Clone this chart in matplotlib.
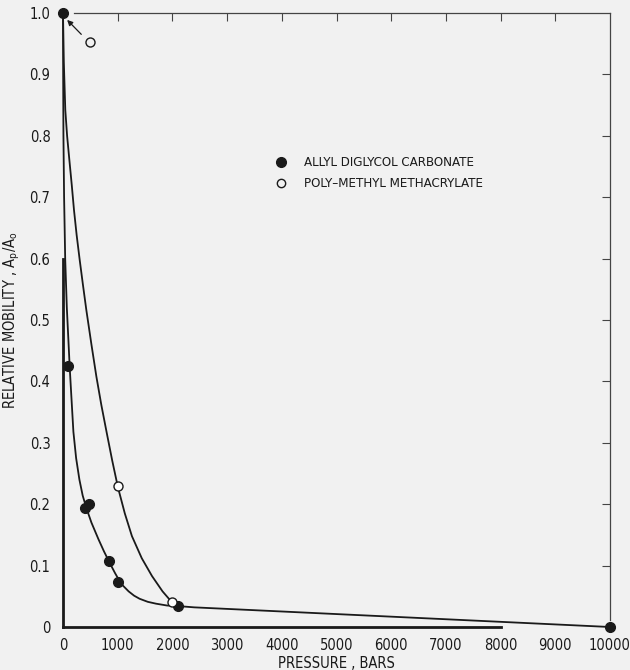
import matplotlib
matplotlib.use("Agg")
import matplotlib.pyplot as plt
from matplotlib.ticker import FixedLocator

plt.rcParams['font.family'] = ['DejaVu Sans']
plt.rcParams['font.stretch'] = 'condensed'
plt.rcParams['mathtext.fontset'] = 'custom'
plt.rcParams['mathtext.rm'] = 'DejaVu Sans:stretch=condensed'

# ---- data ----
adc_x = [0, 100, 400, 480, 850, 1000, 2100, 10000]
adc_y = [1.0, 0.425, 0.193, 0.200, 0.107, 0.073, 0.034, 0.0]
pmma_x = [1000, 2000]
pmma_y = [0.230, 0.040]
pmma_note_x = [490]
pmma_note_y = [0.953]

adc_curve_x = [0, 3, 8, 20, 40, 70, 100, 122, 150, 190, 240, 300, 360, 430,
               520, 648, 750, 862, 950, 1014, 1100, 1200, 1300, 1400, 1550,
               1700, 1900, 2114, 2400, 10000]
adc_curve_y = [1.0, 0.9, 0.8, 0.7, 0.6, 0.52, 0.465, 0.424, 0.38, 0.318,
               0.275, 0.24, 0.214, 0.193, 0.170, 0.143, 0.123, 0.103, 0.088,
               0.078, 0.067, 0.058, 0.051, 0.046, 0.041, 0.038, 0.035, 0.034,
               0.032, 0.0]
pmma_curve_x = [0, 15, 42, 75, 116, 160, 201, 250, 305, 365, 427, 520, 610,
                700, 800, 900, 1003, 1130, 1260, 1440, 1627, 1820, 2004, 2080]
pmma_curve_y = [1.0, 0.92, 0.842, 0.80, 0.761, 0.72, 0.679, 0.638, 0.598,
                0.557, 0.516, 0.46, 0.408, 0.362, 0.316, 0.271, 0.228, 0.185,
                0.148, 0.112, 0.083, 0.058, 0.039, 0.034]

x_ticks = [0, 1000, 2000, 3000, 4000, 5000, 6000, 7000, 8000, 9000, 10000]
x_labels = ['0', '1000', '2000', '3000', '4000', '5000', '6000', '7000',
            '8000', '9000', '10000']
y_ticks = [0, 0.1, 0.2, 0.3, 0.4, 0.5, 0.6, 0.7, 0.8, 0.9, 1.0]
y_labels = ['0', '0.1', '0.2', '0.3', '0.4', '0.5', '0.6', '0.7', '0.8',
            '0.9', '1.0']

bg = '#f1f1f1'
ink = '#1a1a1a'

fig = plt.figure(figsize=(6.3, 6.7), dpi=100, facecolor=bg)
W, H = 630, 670
x0, x1 = 63, 610
y0, y1 = 627, 13
ax = fig.add_axes([x0 / W, 1 - y0 / H, (x1 - x0) / W, (y0 - y1) / H])
ax.set_facecolor(bg)
ax.set_xlim(0, 10000)
ax.set_ylim(0, 1.0)

# curves
ax.plot(adc_curve_x, adc_curve_y, color=ink, lw=1.3, clip_on=False, zorder=3,
        solid_joinstyle='round')
ax.plot(pmma_curve_x, pmma_curve_y, color=ink, lw=1.3, clip_on=False, zorder=3,
        solid_joinstyle='round')

# points
ax.plot(adc_x, adc_y, 'o', ms=7, color=ink, mec=ink, clip_on=False, zorder=5)
ax.plot(pmma_x, pmma_y, 'o', ms=6.5, mfc='white', mec=ink, mew=1.0,
        clip_on=False, zorder=6)
ax.plot(pmma_note_x, pmma_note_y, 'o', ms=6.5, mfc=bg, mec=ink, mew=1.0,
        clip_on=False, zorder=6)
ax.annotate('', xy=(40, 0.992), xytext=(370, 0.962),
            arrowprops=dict(arrowstyle='-|>', color=ink, lw=0.9,
                            mutation_scale=8))

# spines
for s in ['left', 'bottom']:
    ax.spines[s].set_linewidth(2.0)
    ax.spines[s].set_color(ink)
ax.spines['left'].set_bounds(0, 0.6)
ax.spines['bottom'].set_bounds(0, 8000)
ax.spines['top'].set_visible(False)
ax.spines['right'].set_visible(False)

# ticks
ax.set_xticks(x_ticks)
ax.set_xticklabels(x_labels)
ax.set_yticks(y_ticks)
ax.set_yticklabels(y_labels)
ax.tick_params(which='major', length=0, labelsize=10.5, colors=ink)
ax.tick_params(axis='x', which='major', pad=8)
ax.tick_params(axis='y', which='major', pad=9)
ax.xaxis.set_minor_locator(FixedLocator(x_ticks[1:8]))
ax.yaxis.set_minor_locator(FixedLocator(y_ticks[1:4]))
ax.tick_params(which='minor', direction='in', length=6, width=0.8,
               colors=ink)

# right frame with ticks
axr = ax.twinx()
axr.set_ylim(0, 1.0)
axr.set_yticks(y_ticks[1:10])
axr.set_yticklabels([])
axr.tick_params(axis='y', direction='in', length=6, width=0.8, colors='#444444')
for s in ['left', 'bottom', 'top']:
    axr.spines[s].set_visible(False)
axr.spines['right'].set_bounds(0.012, 1.0)
axr.spines['right'].set_linewidth(0.9)
axr.spines['right'].set_color('#444444')

# top frame with ticks
axt = ax.twiny()
axt.set_xlim(0, 10000)
axt.set_xticks(x_ticks[1:10])
axt.set_xticklabels([])
axt.tick_params(axis='x', direction='in', length=6, width=0.8, colors='#444444')
for s in ['left', 'bottom', 'right']:
    axt.spines[s].set_visible(False)
axt.spines['top'].set_bounds(200, 10000)
axt.spines['top'].set_linewidth(0.9)
axt.spines['top'].set_color('#444444')

# labels
ax.set_xlabel('PRESSURE , BARS', fontsize=10.5, color=ink)
ax.xaxis.set_label_coords(0.5, -0.047)
ax.set_ylabel('RELATIVE MOBILITY , A$_\\mathregular{p}$/A$_\\mathregular{o}$',
              fontsize=10.5, color=ink)
ax.yaxis.set_label_coords(-0.075, 0.5)

# legend (manual)
leg_x, leg_y1, leg_y2 = 0.398, 0.757, 0.723
ax.plot([leg_x * 10000], [leg_y1], 'o', ms=7, color=ink)
ax.plot([leg_x * 10000], [leg_y2], 'o', ms=6, mfc=bg, mec=ink, mew=1.0)
ax.text(leg_x * 10000 + 430, leg_y1, 'ALLYL DIGLYCOL CARBONATE', fontsize=9.5,
        va='center', ha='left', color=ink)
ax.text(leg_x * 10000 + 430, leg_y2, 'POLY\u2013METHYL METHACRYLATE', fontsize=9.5,
        va='center', ha='left', color=ink)

fig.savefig('out.png', dpi=100, facecolor=bg)
